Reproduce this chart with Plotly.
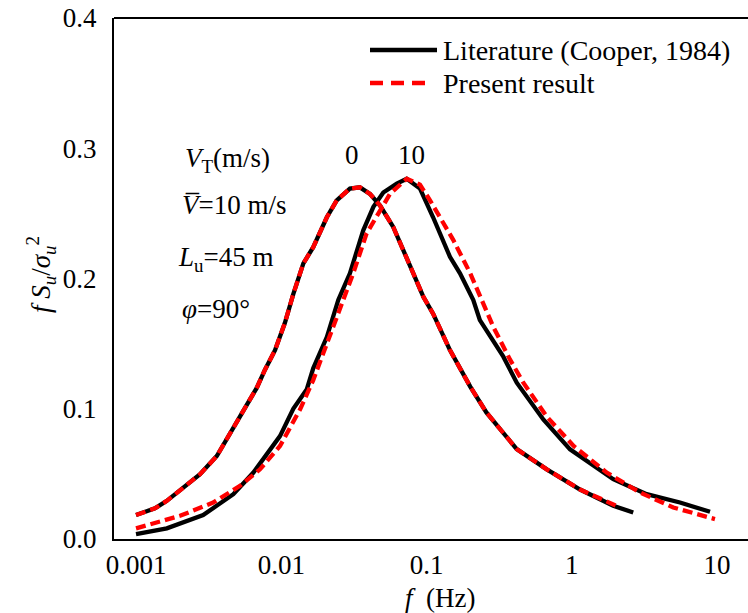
import plotly.graph_objects as go

# ---------------- data ----------------
# VT = 0 m/s, literature (Cooper, 1984)
lit0_f = [0.001, 0.00135, 0.00163, 0.00201, 0.00276, 0.00360, 0.00432, 0.00481, 0.00578,
          0.00678, 0.00773, 0.00906, 0.0106, 0.0121, 0.0142, 0.0166, 0.0206, 0.0241,
          0.0297, 0.0348, 0.0408, 0.0479, 0.0590, 0.0731, 0.0811, 0.0951, 0.111,
          0.145, 0.200, 0.259, 0.418, 0.673, 1.14, 1.93, 2.65]
lit0_s = [0.0184, 0.0235, 0.0293, 0.037, 0.0497, 0.0637, 0.079, 0.088, 0.102,
          0.116, 0.130, 0.145, 0.166, 0.188, 0.2116, 0.224, 0.247, 0.260,
          0.269, 0.270, 0.265, 0.256, 0.2396, 0.2167, 0.204, 0.186, 0.173,
          0.145, 0.117, 0.097, 0.069, 0.0535, 0.038, 0.0255, 0.0204]
# VT = 0 m/s, present result
pre0_f = [0.001, 0.00135, 0.00163, 0.00201, 0.00276, 0.00360, 0.00432, 0.00481, 0.00578,
          0.00678, 0.00773, 0.00906, 0.0106, 0.0121, 0.0142, 0.0166, 0.0206, 0.0241,
          0.0297, 0.0348, 0.0408, 0.0479, 0.0590, 0.0731, 0.0811, 0.0951, 0.111,
          0.145, 0.200, 0.259, 0.418, 0.673, 1.14, 2.15]
pre0_s = [0.0184, 0.0235, 0.0293, 0.037, 0.0497, 0.0637, 0.079, 0.088, 0.102,
          0.116, 0.130, 0.145, 0.166, 0.188, 0.2116, 0.224, 0.247, 0.260,
          0.269, 0.270, 0.265, 0.256, 0.2396, 0.2167, 0.204, 0.186, 0.173,
          0.145, 0.117, 0.097, 0.069, 0.0535, 0.038, 0.0242]
# VT = 10 m/s, literature
lit10_f = [0.001, 0.00163, 0.00290, 0.00468, 0.00643, 0.0098, 0.0121, 0.0150, 0.0166,
           0.0206, 0.0247, 0.0297, 0.0367, 0.0431, 0.0504, 0.0624, 0.0731, 0.0902,
           0.111, 0.145, 0.170, 0.210, 0.233, 0.338, 0.418, 0.637, 0.973, 1.93,
           3.28, 5.56, 8.95]
lit10_s = [0.0038, 0.0082, 0.0184, 0.0344, 0.051, 0.079, 0.100, 0.115, 0.131,
           0.155, 0.1835, 0.204, 0.237, 0.255, 0.266, 0.2728, 0.2766, 0.269,
           0.247, 0.2167, 0.204, 0.1835, 0.168, 0.140, 0.120, 0.0918, 0.0688, 0.0459,
           0.0344, 0.028, 0.0209]
# VT = 10 m/s, present result
pre10_f = [0.001, 0.00201, 0.00340, 0.00520, 0.00714, 0.0098, 0.01346, 0.0166, 0.0228,
           0.0313, 0.0387, 0.0454, 0.0561, 0.0731, 0.0902, 0.1057, 0.153, 0.200,
           0.246, 0.288, 0.376, 0.464, 0.673, 1.03, 1.74, 2.95, 5.00, 9.68]
pre10_s = [0.0082, 0.0178, 0.028, 0.0408, 0.0535, 0.0714, 0.0994, 0.122, 0.163,
           0.204, 0.2346, 0.247, 0.265, 0.2766, 0.272, 0.260, 0.2295, 0.204,
           0.181, 0.163, 0.1377, 0.120, 0.094, 0.0714, 0.051, 0.0357, 0.0242, 0.0153]

x_tickvals = [0.001, 0.01, 0.1, 1, 10]
x_ticktext = ["0.001", "0.01", "0.1", "1", "10"]
y_tickvals = [0.0, 0.1, 0.2, 0.3, 0.4]
y_ticktext = ["0.0", "0.1", "0.2", "0.3", "0.4"]
legend_labels = ["Literature (Cooper, 1984)", "Present result"]

# ---------------- layout geometry ----------------
W, H = 748, 613
L, R, T, B = 114, 0, 18, 74
PW, PH = W - L - R, H - T - B
FONT = "'Liberation Serif', 'Times New Roman', Times, serif"
FS = 27


def px(x):
    return (x - L) / PW


def py(y):
    return (H - B - y) / PH


fig = go.Figure()
black = dict(color="black", width=4.3)
red = dict(color="#ff0000", width=4.3, dash="10px,5px")
fig.add_trace(go.Scatter(x=lit0_f, y=lit0_s, mode="lines", line=black, showlegend=False))
fig.add_trace(go.Scatter(x=lit10_f, y=lit10_s, mode="lines", line=black, showlegend=False))
fig.add_trace(go.Scatter(x=pre0_f, y=pre0_s, mode="lines", line=red, showlegend=False))
fig.add_trace(go.Scatter(x=pre10_f, y=pre10_s, mode="lines", line=red, showlegend=False))

fig.update_layout(
    width=W, height=H,
    margin=dict(l=L, r=R, t=T, b=B, pad=0),
    paper_bgcolor="white", plot_bgcolor="white",
    font=dict(family=FONT, size=FS, color="black"),
    showlegend=False,
)
fig.update_xaxes(
    type="log", range=[-3.1515, 1.2134],
    tickvals=x_tickvals, ticktext=x_ticktext,
    showgrid=False, zeroline=False, showline=True, linecolor="black", linewidth=2,
    ticks="", ticklabelstandoff=1, tickfont=dict(family=FONT, size=FS),
)
fig.update_yaxes(
    range=[0, 0.4],
    tickvals=y_tickvals, ticktext=y_ticktext,
    showgrid=False, zeroline=False, showline=True, linecolor="black", linewidth=2,
    ticks="", ticklabelstandoff=10, tickfont=dict(family=FONT, size=FS),
)

# top frame line
fig.add_shape(type="line", xref="paper", yref="paper", x0=0, x1=1, y0=1, y1=1,
              line=dict(color="black", width=2))

# manual legend
fig.add_shape(type="line", xref="paper", yref="paper", x0=px(370), x1=px(437),
              y0=py(50), y1=py(50), line=dict(color="black", width=4.5))
fig.add_shape(type="line", xref="paper", yref="paper", x0=px(370), x1=px(430),
              y0=py(83), y1=py(83), line=dict(color="#ff0000", width=4.5, dash="13px,8px"))


def ann(text, x, y, xanchor="left", textangle=0, size=FS):
    fig.add_annotation(text=text, xref="paper", yref="paper", x=px(x), y=py(y),
                       xanchor=xanchor, yanchor="middle", showarrow=False,
                       textangle=textangle, font=dict(family=FONT, size=size, color="black"))


ann(legend_labels[0], 441, 50, size=28)
ann(legend_labels[1], 441, 83, size=28)

ann("<i>V</i><sub>T</sub>(m/s)", 183, 160)
ann("0", 352, 155, "center")
ann("10", 411, 155, "center")
ann("<i>V\u0305</i>=10 m/s", 180, 205)
ann("<i>L</i><sub>u</sub>=45 m", 176, 259)
ann("<i>φ</i>=90°", 180, 309)

# axis titles
ann("<i>f</i>  (Hz)", 440, 598, "center")
ann("<i>f S</i><sub><i>u</i></sub>/<i>σ</i><sub><i>u</i></sub><sup>2</sup>", 41, 275, "center", -90)

fig.write_html("out.html")
